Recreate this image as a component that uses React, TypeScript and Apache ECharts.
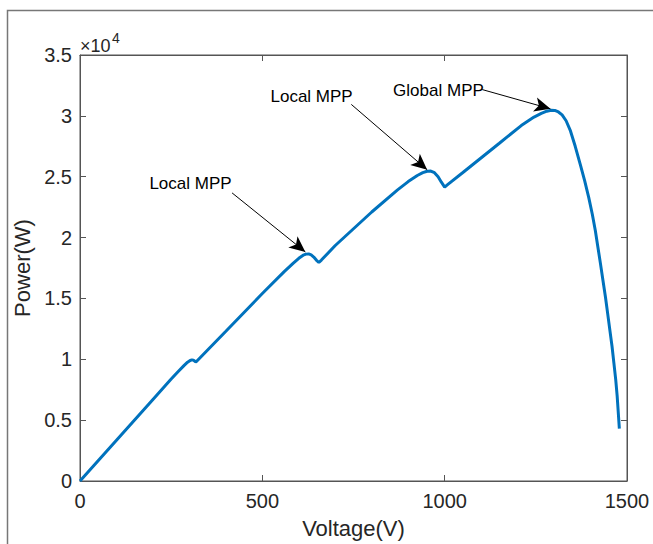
import React, { useEffect, useRef } from "react";
import * as echarts from "echarts";

// Voltage (V) and power (W)
const voltage = [
  0, 100, 200, 250, 270, 285, 295, 302, 307, 311, 314, 317, 320, 330, 400, 500, 560, 585, 600,
  612, 620, 627, 634, 641, 648, 655, 662, 700, 800, 870, 900, 925, 940, 952, 962, 972, 982, 991,
  1000, 1008, 1050, 1150, 1210, 1245, 1265, 1280, 1292, 1302, 1312, 1322, 1333, 1345, 1358, 1372,
  1384, 1395, 1405, 1413, 1420, 1427, 1434, 1441, 1447, 1453, 1459, 1464, 1469, 1473, 1476, 1479,
];
const power = [
  0, 3350, 6700, 8380, 9020, 9480, 9760, 9900, 9950, 9930, 9860, 9780, 9840, 10150, 12300, 15400,
  17200, 17900, 18300, 18550, 18640, 18660, 18580, 18400, 18150, 17950, 18150, 19350, 22100, 23900,
  24600, 25100, 25330, 25450, 25460, 25330, 25000, 24550, 24150, 24350, 25350, 27750, 29200, 29900,
  30200, 30380, 30460, 30450, 30320, 30080, 29600, 28760, 27500, 26000, 24650, 23300, 21900, 20600,
  19250, 17900, 16500, 15100, 13750, 12400, 11050, 9700, 8350, 7000, 5650, 4300,
];

const xTicks = { min: 0, max: 1500, interval: 500 };
const yTicks = { min: 0, max: 35000, interval: 5000 };

// Annotation labels, their positions, and the arrows (start -> tip), in data units
const annLabels = ["Local MPP", "Local MPP", "Global MPP"];
const annLabelPos = [
  [303, 24430],
  [635, 31620],
  [983, 32080],
];
const annArrowStart = [
  [417, 23670],
  [744, 30940],
  [1103, 32160],
];
const annArrowTip = [
  [618, 18820],
  [952, 25570],
  [1290, 30580],
];

const FONT = "'Liberation Sans', Arial, Helvetica, sans-serif";
const AXIS_COLOR = "#555555";
const TEXT_COLOR = "#262626";

export default function App() {
  const ref = useRef<HTMLDivElement>(null);

  useEffect(() => {
    if (!ref.current) return;
    const chart = echarts.init(ref.current, undefined, { renderer: "svg" });
    const seriesData = voltage.map((v, i) => [v, power[i]]);

    const tickCommon = {
      axisLine: { show: true, onZero: false, lineStyle: { color: AXIS_COLOR, width: 1 } },
      axisTick: { show: true, inside: true, length: 6, lineStyle: { color: AXIS_COLOR, width: 1 } },
      splitLine: { show: false },
    };

    chart.setOption({
      animation: false,
      backgroundColor: "#ffffff",
      textStyle: { fontFamily: FONT },
      title: [
        {
          text: "×10",
          left: 80,
          top: 37,
          padding: 0,
          textStyle: { color: TEXT_COLOR, fontSize: 18, fontWeight: "normal", fontFamily: FONT },
        },
        {
          text: "4",
          left: 112,
          top: 31,
          padding: 0,
          textStyle: { color: TEXT_COLOR, fontSize: 14, fontWeight: "normal", fontFamily: FONT },
        },
      ],
      grid: {
        left: 80,
        right: 26,
        top: 55,
        bottom: 62,
        containLabel: false,
        show: true,
        borderColor: AXIS_COLOR,
        borderWidth: 1,
        backgroundColor: "transparent",
      },
      xAxis: [
        {
          type: "value",
          position: "bottom",
          ...xTicks,
          ...tickCommon,
          axisLabel: {
            show: true,
            color: TEXT_COLOR,
            fontSize: 20,
            margin: 10,
            fontFamily: FONT,
            formatter: (v: number) => String(v),
          },
          name: "Voltage(V)",
          nameLocation: "middle",
          nameGap: 36,
          nameTextStyle: { color: TEXT_COLOR, fontSize: 22, fontFamily: FONT },
        },
        {
          type: "value",
          position: "top",
          ...xTicks,
          ...tickCommon,
          axisLabel: { show: false },
        },
      ],
      yAxis: [
        {
          type: "value",
          position: "left",
          ...yTicks,
          ...tickCommon,
          axisLabel: {
            show: true,
            color: TEXT_COLOR,
            fontSize: 20,
            margin: 8,
            fontFamily: FONT,
            formatter: (v: number) => String(v / 10000),
          },
          name: "Power(W)",
          nameLocation: "middle",
          nameGap: 40,
          nameTextStyle: { color: TEXT_COLOR, fontSize: 22, fontFamily: FONT },
        },
        {
          type: "value",
          position: "right",
          ...yTicks,
          ...tickCommon,
          axisLabel: { show: false },
        },
      ],
      graphic: [
        {
          type: "polyline",
          shape: { points: [[7.5, 560], [7.5, 10.5], [700, 10.5]] },
          style: { stroke: "#777777", lineWidth: 1.5, fill: "none" },
          silent: true,
        },
      ],
      series: [
        {
          type: "line",
          data: seriesData,
          showSymbol: false,
          symbol: "none",
          smooth: false,
          lineStyle: { color: "#0072BD", width: 3 },
          xAxisIndex: 0,
          yAxisIndex: 0,
          z: 3,
          markLine: {
            silent: true,
            symbol: ["none", "arrow"],
            symbolSize: [11, 16],
            lineStyle: { color: "#000000", width: 1, type: "solid" },
            label: { show: false },
            emphasis: { disabled: true },
            data: annArrowStart.map((s, i) => [{ coord: s }, { coord: annArrowTip[i] }]),
          },
          markPoint: {
            silent: true,
            symbol: "circle",
            symbolSize: 0,
            data: annLabels.map((t, i) => ({
              coord: annLabelPos[i],
              label: {
                show: true,
                position: "inside",
                formatter: t,
                color: "#000000",
                fontSize: 17,
                fontFamily: FONT,
              },
            })),
          },
        },
        {
          type: "line",
          data: [],
          xAxisIndex: 1,
          yAxisIndex: 1,
          showSymbol: false,
          symbol: "none",
          silent: true,
          lineStyle: { opacity: 0 },
        },
      ],
    });

    return () => chart.dispose();
  }, []);

  return (
    <div
      ref={ref}
      style={{ position: "fixed", left: 0, top: 0, width: 653, height: 544, background: "#fff" }}
    />
  );
}
